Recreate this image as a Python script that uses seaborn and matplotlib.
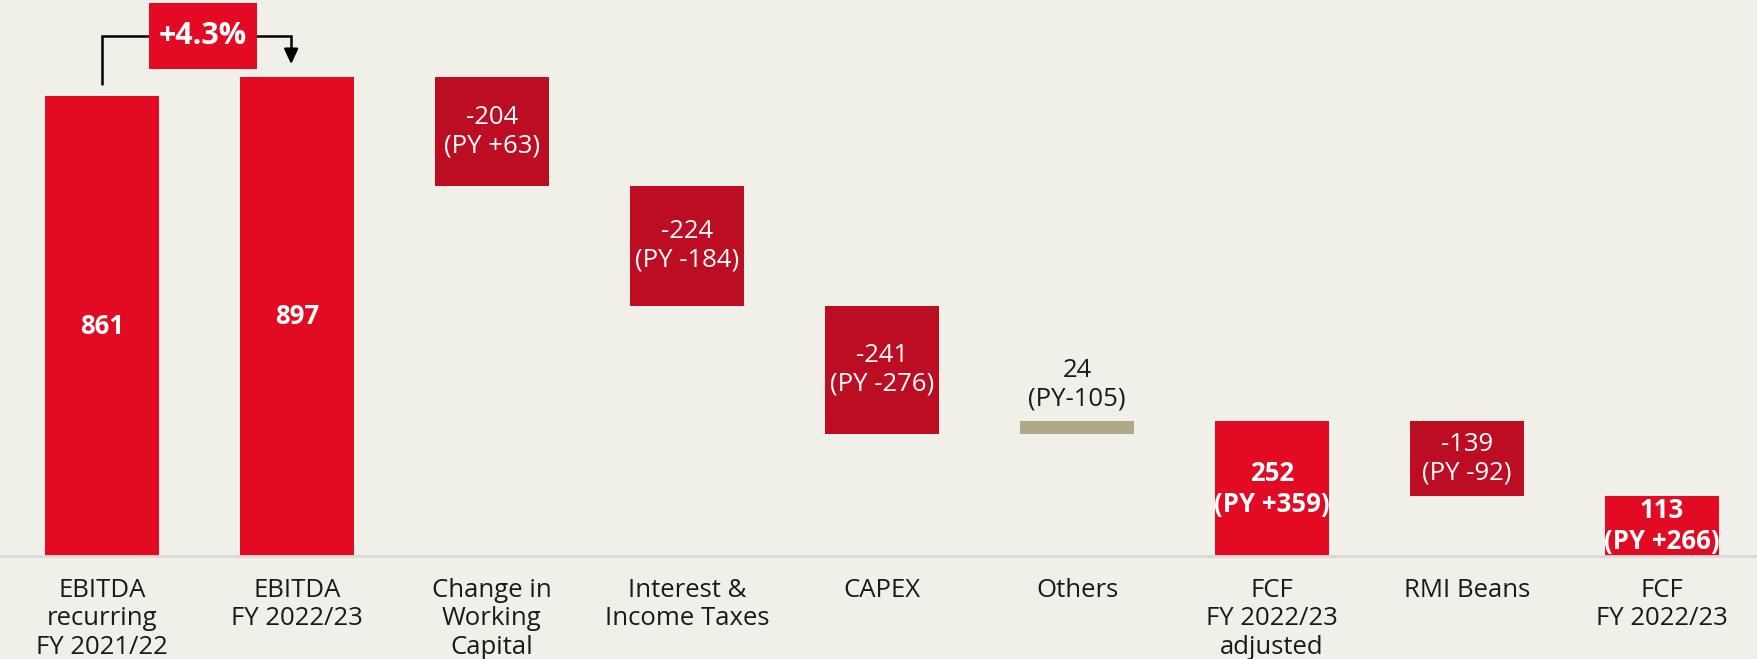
import matplotlib
matplotlib.use("Agg")
import matplotlib.pyplot as plt
from matplotlib.patches import Rectangle
import seaborn as sns
import numpy as np
import pandas as pd

categories = ["EBITDA\nrecurring\nFY 2021/22", "EBITDA\nFY 2022/23", "Change in\nWorking\nCapital",
              "Interest &\nIncome Taxes", "CAPEX", "Others", "FCF\nFY 2022/23\nadjusted",
              "RMI Beans", "FCF\nFY 2022/23"]
values = [861, 897, -204, -224, -241, 24, 252, -139, 113]
kinds = ["total", "total", "delta", "delta", "delta", "delta", "total", "delta", "total"]
value_labels = ["861", "897", "-204\n(PY +63)", "-224\n(PY -184)", "-241\n(PY -276)",
                "24\n(PY-105)", "252\n(PY +359)", "-139\n(PY -92)", "113\n(PY +266)"]
growth_label = "+4.3%"

RED = "#E30B23"
DARK = "#BD0D22"
TAN = "#AFA98A"
BG = "#F0EFE8"

# compute waterfall bottoms / heights
bottoms, heights, colors = [], [], []
running = 0
for v, k in zip(values, kinds):
    if k == "total":
        bottoms.append(0); heights.append(v); colors.append(RED)
        running = v
    else:
        if v < 0:
            bottoms.append(running + v); heights.append(-v); colors.append(DARK)
        else:
            bottoms.append(running); heights.append(v); colors.append(TAN)
        running += v

df = pd.DataFrame({"cat": categories, "height": heights})

sns.set_theme(style="white")
plt.rcParams["font.family"] = ["Open Sans", "DejaVu Sans"]

FS = 18.5
LS = 1.2

fig = plt.figure(figsize=(17.57, 6.59), dpi=100, facecolor=BG)
ax = fig.add_axes([0, 103 / 659, 1, 556 / 659])
ax.set_facecolor(BG)

sns.barplot(data=df, x="cat", y="height", hue="cat", palette=colors, legend=False,
            width=0.585, ax=ax, saturation=1, edgecolor="none")

for p, b in zip(ax.patches, bottoms):
    p.set_y(b)

px_per_unit = 0.534
ax.set_ylim(0, 556 / px_per_unit)
ax.set_xlim(-102 / 195, (1757 - 102) / 195)

for s in ["top", "right", "left"]:
    ax.spines[s].set_visible(False)
ax.spines["bottom"].set_color("#D9D9D9")
ax.spines["bottom"].set_linewidth(2)
ax.set_yticks([])
ax.set_xlabel(""); ax.set_ylabel("")
ax.tick_params(axis="x", length=0, pad=15.5)
for t in ax.get_xticklabels():
    t.set_fontsize(FS)
    t.set_color("#1a1a1a")
    t.set_linespacing(LS)

# value labels
for i, (lab, b, h, k, c) in enumerate(zip(value_labels, bottoms, heights, kinds, colors)):
    if c == TAN:
        ax.annotate(lab, (i, b + h), xytext=(0, 7), textcoords="offset points",
                    ha="center", va="bottom", fontsize=FS, color="#1a1a1a", linespacing=LS)
    else:
        bold = (k == "total")
        ax.text(i, b + h / 2, lab, ha="center", va="center", fontsize=FS,
                color="white", fontweight="bold" if bold else "normal", linespacing=LS)

# growth bracket
ytop = max(values[0], values[1])
lvl = ytop + 77
ax.plot([0, 0, 0.97, 0.97], [values[0] + 23, lvl, lvl, values[1] + 45],
        color="black", lw=1.8, solid_joinstyle="miter")
ax.annotate("", xy=(0.97, values[1] + 24), xytext=(0.97, values[1] + 50),
            arrowprops=dict(arrowstyle="-|>,head_width=0.35,head_length=0.75",
                            color="black", lw=1.8, shrinkA=0, shrinkB=0))
ax.add_patch(Rectangle((0.24, lvl - 62), 0.555, 124, fc=RED, ec="none", zorder=3))
ax.text(0.518, lvl, growth_label, ha="center", va="center", fontsize=22,
        fontweight="bold", color="white", zorder=4)

fig.savefig("out.png", dpi=100, facecolor=BG)
